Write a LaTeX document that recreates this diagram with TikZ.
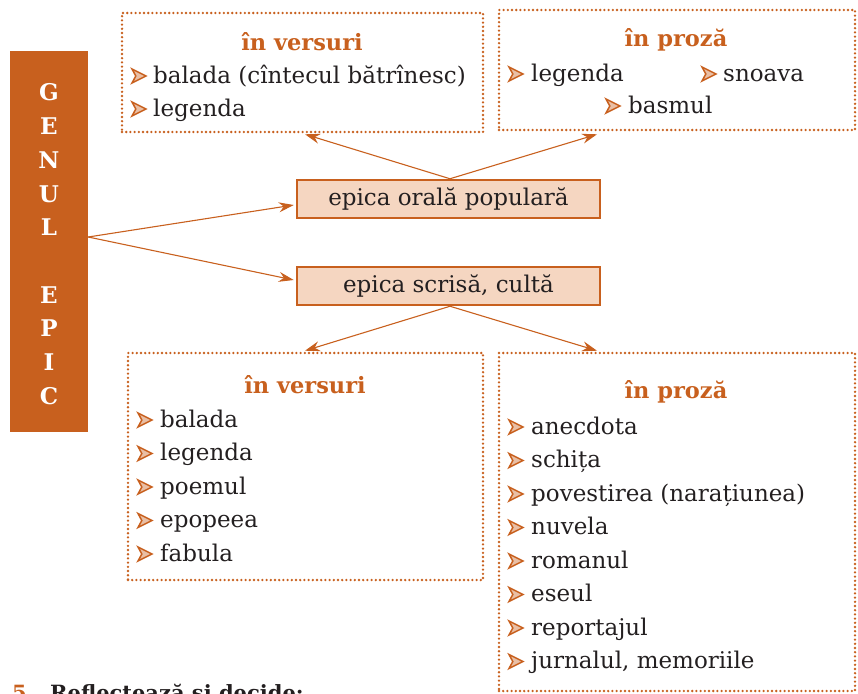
\documentclass[tikz,border=0pt]{standalone}
\usepackage{fontspec}
\setmainfont{DejaVu Serif}
\usetikzlibrary{arrows.meta,calc}
\definecolor{orr}{HTML}{C8601E}
\definecolor{peach}{HTML}{F5D6C1}
\definecolor{ink}{HTML}{231F20}
\begin{document}
\begin{tikzpicture}[x=1pt,y=-1pt,
  conn/.style={draw=orr, line width=1.1pt, -{Stealth[length=15pt,width=10pt,inset=5pt]}},
  dotbox/.style={draw=orr, line width=2.6pt, dash pattern=on 0pt off 4.2pt, line cap=round, inner sep=0pt},
  epbox/.style={draw=orr, fill=peach, line width=2.5pt, minimum width=303pt, minimum height=38pt, inner sep=0pt, font=\fontsize{23}{27}\selectfont, text=ink},
  ttl/.style={anchor=base, inner sep=0pt, font=\bfseries\fontsize{22.5}{27}\selectfont, text=orr},
  itm/.style={anchor=base west, inner sep=0pt, font=\fontsize{23}{27}\selectfont, text=ink},
  vlet/.style={anchor=base, inner sep=0pt, font=\bfseries\fontsize{23}{26}\selectfont, text=white},
  blt/.pic={\path[draw=orr, fill=orr!40, line width=1.5pt, line join=miter] (0,-7) -- (14,0) -- (0,7) -- (3.8,0) -- cycle;}
]
\useasboundingbox (0,0) rectangle (858,693);

% left bar
\node[fill=orr, minimum width=78pt, minimum height=381pt, inner sep=0pt] (bar) at (49,241.5) {};
\foreach \l/\y [count=\i] in {G/100,E/134,N/168,U/202,L/235,E/303,P/336,I/370,C/404}
  \node[vlet] (let\i) at (49,\y) {\l};

% middle boxes
\node[epbox] (o) at (448.5,199) {epica orală populară};
\node[epbox] (s) at (448.5,286) {epica scrisă, cultă};

% dotted boxes
\node[dotbox, minimum width=361pt, minimum height=119pt] (tl) at (302.5,72.5) {};
\node[dotbox, minimum width=356pt, minimum height=120pt] (tr) at (677,70) {};
\node[dotbox, minimum width=355pt, minimum height=227pt] (bl) at (305.5,466.5) {};
\node[dotbox, minimum width=356pt, minimum height=338pt] (br) at (677,522) {};

% top-left content
\node[ttl] (tlt) at (302,50) {în versuri};
\pic at (132,76) {blt};
\node[itm] (tl1) at (153,83) {balada (cîntecul bătrînesc)};
\pic at (132,109) {blt};
\node[itm] (tl2) at (153,116) {legenda};

% top-right content
\node[ttl] (trt) at (676,47) {în proză};
\pic at (509,74) {blt};
\node[itm] (tr1) at (531,81) {legenda};
\pic at (702,74) {blt};
\node[itm] (tr2) at (723,81) {snoava};
\pic at (606,106) {blt};
\node[itm] (tr3) at (628,113) {basmul};

% bottom-left content
\node[ttl] (blt) at (305,393) {în versuri};
\foreach \t/\y [count=\i] in {balada/427,legenda/460.5,poemul/494,epopeea/527.5,fabula/561}{
  \pic at (138,\y-7) {blt};
  \node[itm] (bl\i) at (160,\y) {\t};
}

% bottom-right content
\node[ttl] (brt) at (676,398) {în proză};
\foreach \t/\y [count=\i] in {anecdota/434,schița/467.5,povestirea (narațiunea)/501,nuvela/534.5,romanul/568,eseul/601.5,reportajul/635,{jurnalul, memoriile}/668.5}{
  \pic at (509,\y-7) {blt};
  \node[itm] (br\i) at (531,\y) {\t};
}

% connectors
\draw[conn] ($(bar.east)+(0,-4.5)$) -- ($(o.west)+(-2,6)$);
\draw[conn] ($(bar.east)+(0,-4.5)$) -- ($(s.west)+(-2,-6)$);
\draw[conn] ($(o.north)+(1.5,0)$) -- ($(tl.south)+(2.5,1)$);
\draw[conn] ($(o.north)+(1.5,0)$) -- ($(tr.south)+(-80,3)$);
\draw[conn] ($(s.south)+(1.5,0)$) -- ($(bl.north)+(-0.5,-1)$);
\draw[conn] ($(s.south)+(1.5,0)$) -- ($(br.north)+(-80,-1)$);

% cut-off caption at the bottom (as in the reference)
\node[anchor=base west, inner sep=0pt, font=\bfseries\fontsize{21}{24}\selectfont, text=orr] (num) at (12,700) {5};
\node[anchor=base west, inner sep=0pt, font=\bfseries\fontsize{21}{24}\selectfont, text=ink] (cap) at (50,700) {Reflectează și decide:};
\end{tikzpicture}
\end{document}
